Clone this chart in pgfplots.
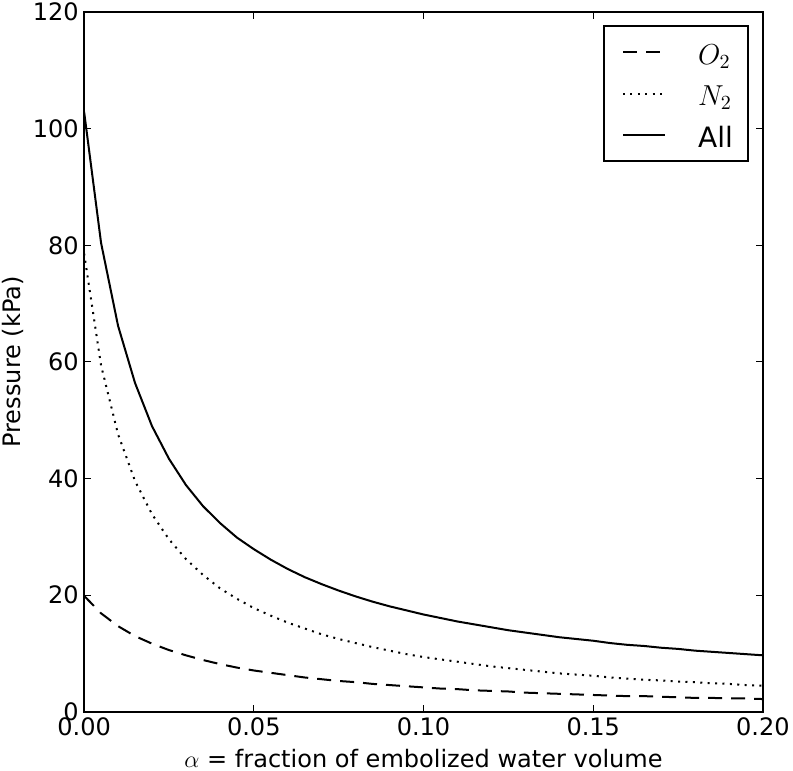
\documentclass[border=0pt]{standalone}
\usepackage{fontspec}
\setmainfont{DejaVu Sans}
\usepackage{pgfplots}
\usepackage{pgfplotstable}
\pgfplotsset{compat=1.18}

% x, O2, N2, All (kPa)
\pgfplotstableread{
x     o2   n2   all
0.000 19.9 78.6 102.9
0.005 16.9 59.4 80.4
0.010 14.7 47.6 66.2
0.015 13.0 39.6 56.4
0.020 11.7 33.9 49.0
0.025 10.6 29.6 43.4
0.030 9.7  26.2 38.9
0.035 8.9  23.5 35.3
0.040 8.2  21.2 32.4
0.045 7.6  19.4 29.9
0.050 7.1  17.8 27.9
0.055 6.7  16.5 26.1
0.060 6.3  15.3 24.5
0.065 5.9  14.3 23.1
0.070 5.6  13.3 21.9
0.075 5.3  12.5 20.8
0.080 5.1  11.8 19.8
0.085 4.8  11.1 18.9
0.090 4.6  10.5 18.1
0.095 4.4  9.9  17.4
0.100 4.2  9.4  16.7
0.105 4.0  9.0  16.1
0.110 3.9  8.6  15.5
0.115 3.7  8.2  15.0
0.120 3.6  7.8  14.5
0.125 3.5  7.5  14.0
0.130 3.3  7.2  13.6
0.135 3.2  6.9  13.2
0.140 3.1  6.6  12.8
0.145 3.0  6.4  12.5
0.150 2.9  6.2  12.2
0.155 2.8  5.9  11.8
0.160 2.7  5.7  11.5
0.165 2.7  5.5  11.3
0.170 2.6  5.4  11.0
0.175 2.5  5.2  10.8
0.180 2.4  5.1  10.5
0.185 2.4  4.9  10.3
0.190 2.3  4.8  10.1
0.195 2.3  4.6  9.9
0.200 2.2  4.5  9.7
}\gasdata

\begin{document}
\begin{tikzpicture}
\begin{axis}[
    scale only axis,
    width=339pt, height=349.5pt,
    xmin=0, xmax=0.2,
    ymin=0, ymax=120,
    xtick={0,0.05,0.1,0.15,0.2},
    ytick={0,20,40,60,80,100,120},
    xticklabel style={/pgf/number format/.cd, fixed, fixed zerofill, precision=2},
    /pgf/number format/assume math mode=true,
    scaled x ticks=false,
    tick label style={font=\fontsize{12}{14}\selectfont, inner sep=2.5pt},
    label style={font=\fontsize{12}{14}\selectfont},
    tick align=inside,
    major tick length=3.5pt,
    tick style={black, line width=0.5pt},
    axis line style={line width=1pt},
    xlabel={$\alpha$ = fraction of embolized water volume},
    ylabel={Pressure (kPa)},
    xlabel style={at={(axis description cs:0.5,0)}, anchor=center, yshift=-23.5pt},
    ylabel style={at={(axis description cs:-0.1055,0.5)}, anchor=center},
    legend style={at={(1,1)}, anchor=north east, xshift=-7pt, yshift=-6.5pt,
        font=\fontsize{14}{16}\selectfont, line width=1pt,
        inner xsep=3.5pt, inner ysep=3pt, row sep=0.75pt,
        nodes={text height=12pt, text depth=0pt, inner sep=4pt},
        /tikz/every odd column/.append style={column sep=12pt}},
    legend cell align=left,
    legend image code/.code={\path (0pt,0pt); \draw[#1] (5.5pt,0pt) -- (26.5pt,0pt);},
]
\addplot[black, line width=1pt, dash pattern=on 7pt off 4.5pt] table[x=x, y=o2] {\gasdata};
\addlegendentry{$O_2$}
\addplot[black, line width=1pt, dash pattern=on 1pt off 2.7pt] table[x=x, y=n2] {\gasdata};
\addlegendentry{$N_2$}
\addplot[black, line width=1pt] table[x=x, y=all] {\gasdata};
\addlegendentry{All}
\end{axis}
\pgfresetboundingbox
\path ([xshift=-42pt, yshift=-29.5pt]current axis.south west)
    rectangle ([xshift=15pt, yshift=6pt]current axis.north east);
\end{tikzpicture}
\end{document}
